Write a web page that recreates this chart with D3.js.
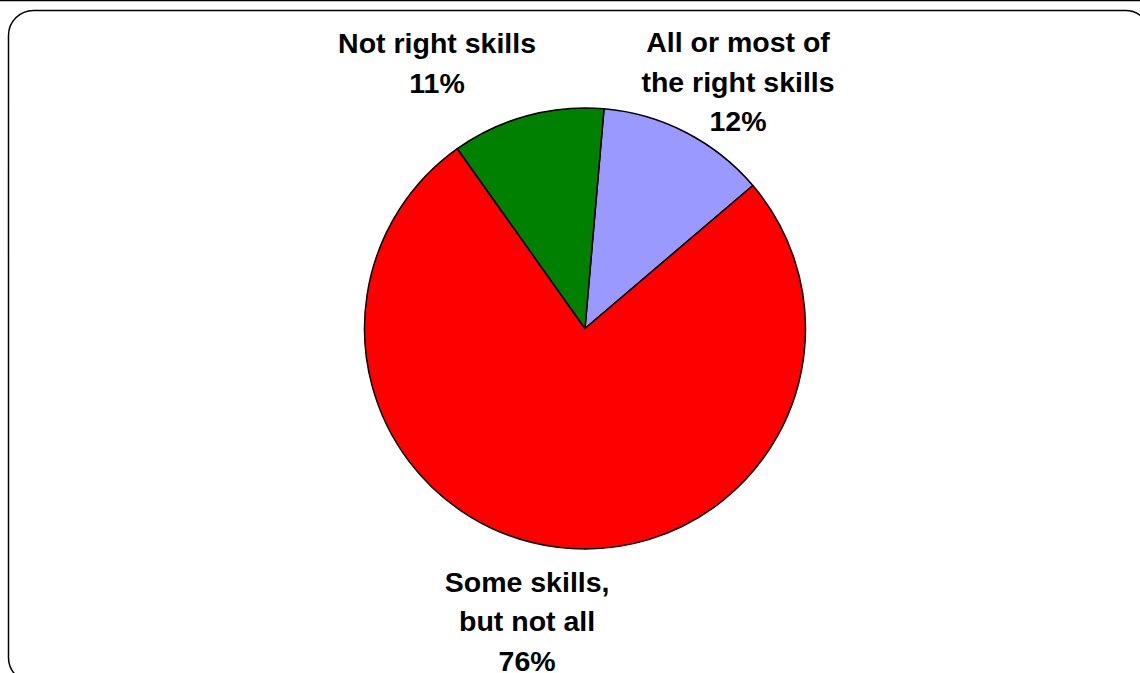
<!DOCTYPE html>
<html>
<head>
<meta charset="utf-8">
<script src="https://cdn.jsdelivr.net/npm/d3@7"></script>
<style>
  html, body { margin: 0; padding: 0; background: #fff; }
  svg { display: block; }
</style>
</head>
<body>
<svg id="chart" width="1140" height="673"></svg>
<script>
// Survey answers, in the order the slices are laid out clockwise
const categories = ["All or most of the right skills", "Some skills, but not all", "Not right skills"];
const labelLines = [["All or most of", "the right skills"], ["Some skills,", "but not all"], ["Not right skills"]];
const values = [12.4, 76.4, 11.2];
const pctLabels = ["12%", "76%", "11%"];
const colors = ["#9999FF", "#FF0000", "#008000"];

const W = 1140, H = 673;
const svg = d3.select("#chart");

// top rule and rounded chart frame
svg.append("line")
  .attr("x1", 0).attr("x2", W).attr("y1", 0.5).attr("y2", 0.5)
  .attr("stroke", "#000").attr("stroke-width", 1.5);
svg.append("rect")
  .attr("x", 8.5).attr("y", 10.5)
  .attr("width", 1142).attr("height", 672)
  .attr("rx", 25).attr("ry", 25)
  .attr("fill", "#fff").attr("stroke", "#000").attr("stroke-width", 1.5);

const cx = 585, cy = 328.5, r = 220.5;
const start = 4.94 * Math.PI / 180;

const pie = d3.pie().sort(null).value(d => d)
  .startAngle(start).endAngle(start + 2 * Math.PI);
const arcs = pie(values);
const arc = d3.arc().innerRadius(0).outerRadius(r);

const g = svg.append("g").attr("transform", `translate(${cx},${cy})`);
g.selectAll("path.slice")
  .data(arcs)
  .enter().append("path")
  .attr("class", "slice")
  .attr("d", arc)
  .attr("fill", (d, i) => colors[i])
  .attr("stroke", "#000")
  .attr("stroke-width", 1.5)
  .attr("stroke-linejoin", "round");

// label placement: angle (deg, clockwise from top) and distance from the centre
// of the first text line's baseline, per slice
const labelPlacement = [
  { angle: 28.96, dist: 316 },   // upper right label
  { angle: 192.4, dist: 269.5 }, // label under the pie
  { angle: -28.24, dist: 312.7 } // upper left label
];
const lineH = 39.5;

arcs.forEach((a, i) => {
  const p = labelPlacement[i];
  const ang = p.angle * Math.PI / 180;
  const x = cx + p.dist * Math.sin(ang);
  const y = cy - p.dist * Math.cos(ang);
  const lines = labelLines[i].concat([pctLabels[i]]);
  const t = svg.append("text")
    .attr("x", x).attr("y", y)
    .attr("text-anchor", "middle")
    .attr("font-family", "'Liberation Sans', Arial, sans-serif")
    .attr("font-weight", "bold")
    .attr("font-size", 28.5)
    .attr("fill", "#000");
  lines.forEach((ln, k) => {
    t.append("tspan").attr("x", x).attr("y", y + k * lineH).text(ln);
  });
});
</script>
</body>
</html>
